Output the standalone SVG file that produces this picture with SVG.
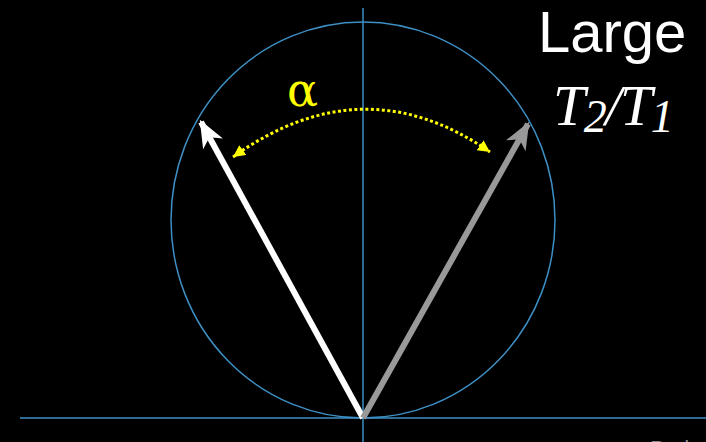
<svg xmlns="http://www.w3.org/2000/svg" width="706" height="442" viewBox="0 0 706 442">
<defs>
<style>
.axis{stroke:#3d8fc4;stroke-width:1.5;fill:none}
.vec{stroke-width:6;fill:none}
</style>
<marker id="ahW" markerUnits="userSpaceOnUse" markerWidth="30" markerHeight="30" refX="22" refY="10" orient="auto" viewBox="0 0 24 20">
<path d="M24,10 L2,1 L8,10 L2,19 Z" fill="#ffffff"/>
</marker>
<marker id="ahG" markerUnits="userSpaceOnUse" markerWidth="30" markerHeight="30" refX="22" refY="10" orient="auto" viewBox="0 0 24 20">
<path d="M24,10 L2,1 L8,10 L2,19 Z" fill="#999999"/>
</marker>
<marker id="ahY" markerUnits="userSpaceOnUse" markerWidth="12" markerHeight="12" refX="10" refY="5" orient="auto-start-reverse" viewBox="0 0 10 10">
<path d="M10,5 L0,0 L0,10 Z" fill="#ffff00"/>
</marker>
</defs>
<rect width="706" height="442" fill="#000"/>
<g id="axes">
<ellipse class="axis" cx="363" cy="220" rx="192" ry="198"/>
<line class="axis" x1="363" y1="8" x2="363" y2="442"/>
<line class="axis" x1="20" y1="418" x2="706" y2="418"/>
</g>
<g id="connectors">
<line class="vec" x1="363" y1="418" x2="201" y2="122" stroke="#ffffff" marker-end="url(#ahW)"/>
<line class="vec" x1="363" y1="418" x2="528" y2="124" stroke="#999999" marker-end="url(#ahG)"/>
<path d="M233,157 Q363,64 490,152" fill="none" stroke="#ffff00" stroke-width="3" stroke-dasharray="3 2.5" marker-start="url(#ahY)" marker-end="url(#ahY)"/>
</g>
<g id="labels">
<text x="287" y="106" font-family="DejaVu Serif, serif" font-size="46" fill="#ffff00">α</text>
<text x="538" y="52" font-family="Liberation Sans, Arial, sans-serif" font-size="58" fill="#ffffff">Large</text>
<text x="553" y="125" font-family="Liberation Serif, serif" font-style="italic" font-size="58" letter-spacing="-1.5" fill="#ffffff">T<tspan font-size="46" dy="7">2</tspan><tspan font-size="58" dy="-7">/T</tspan><tspan font-size="46" dy="7">1</tspan></text>
<text x="650" y="456" font-family="Liberation Sans, Arial, sans-serif" font-size="22" fill="#888888">Bud</text>
</g>
</svg>
